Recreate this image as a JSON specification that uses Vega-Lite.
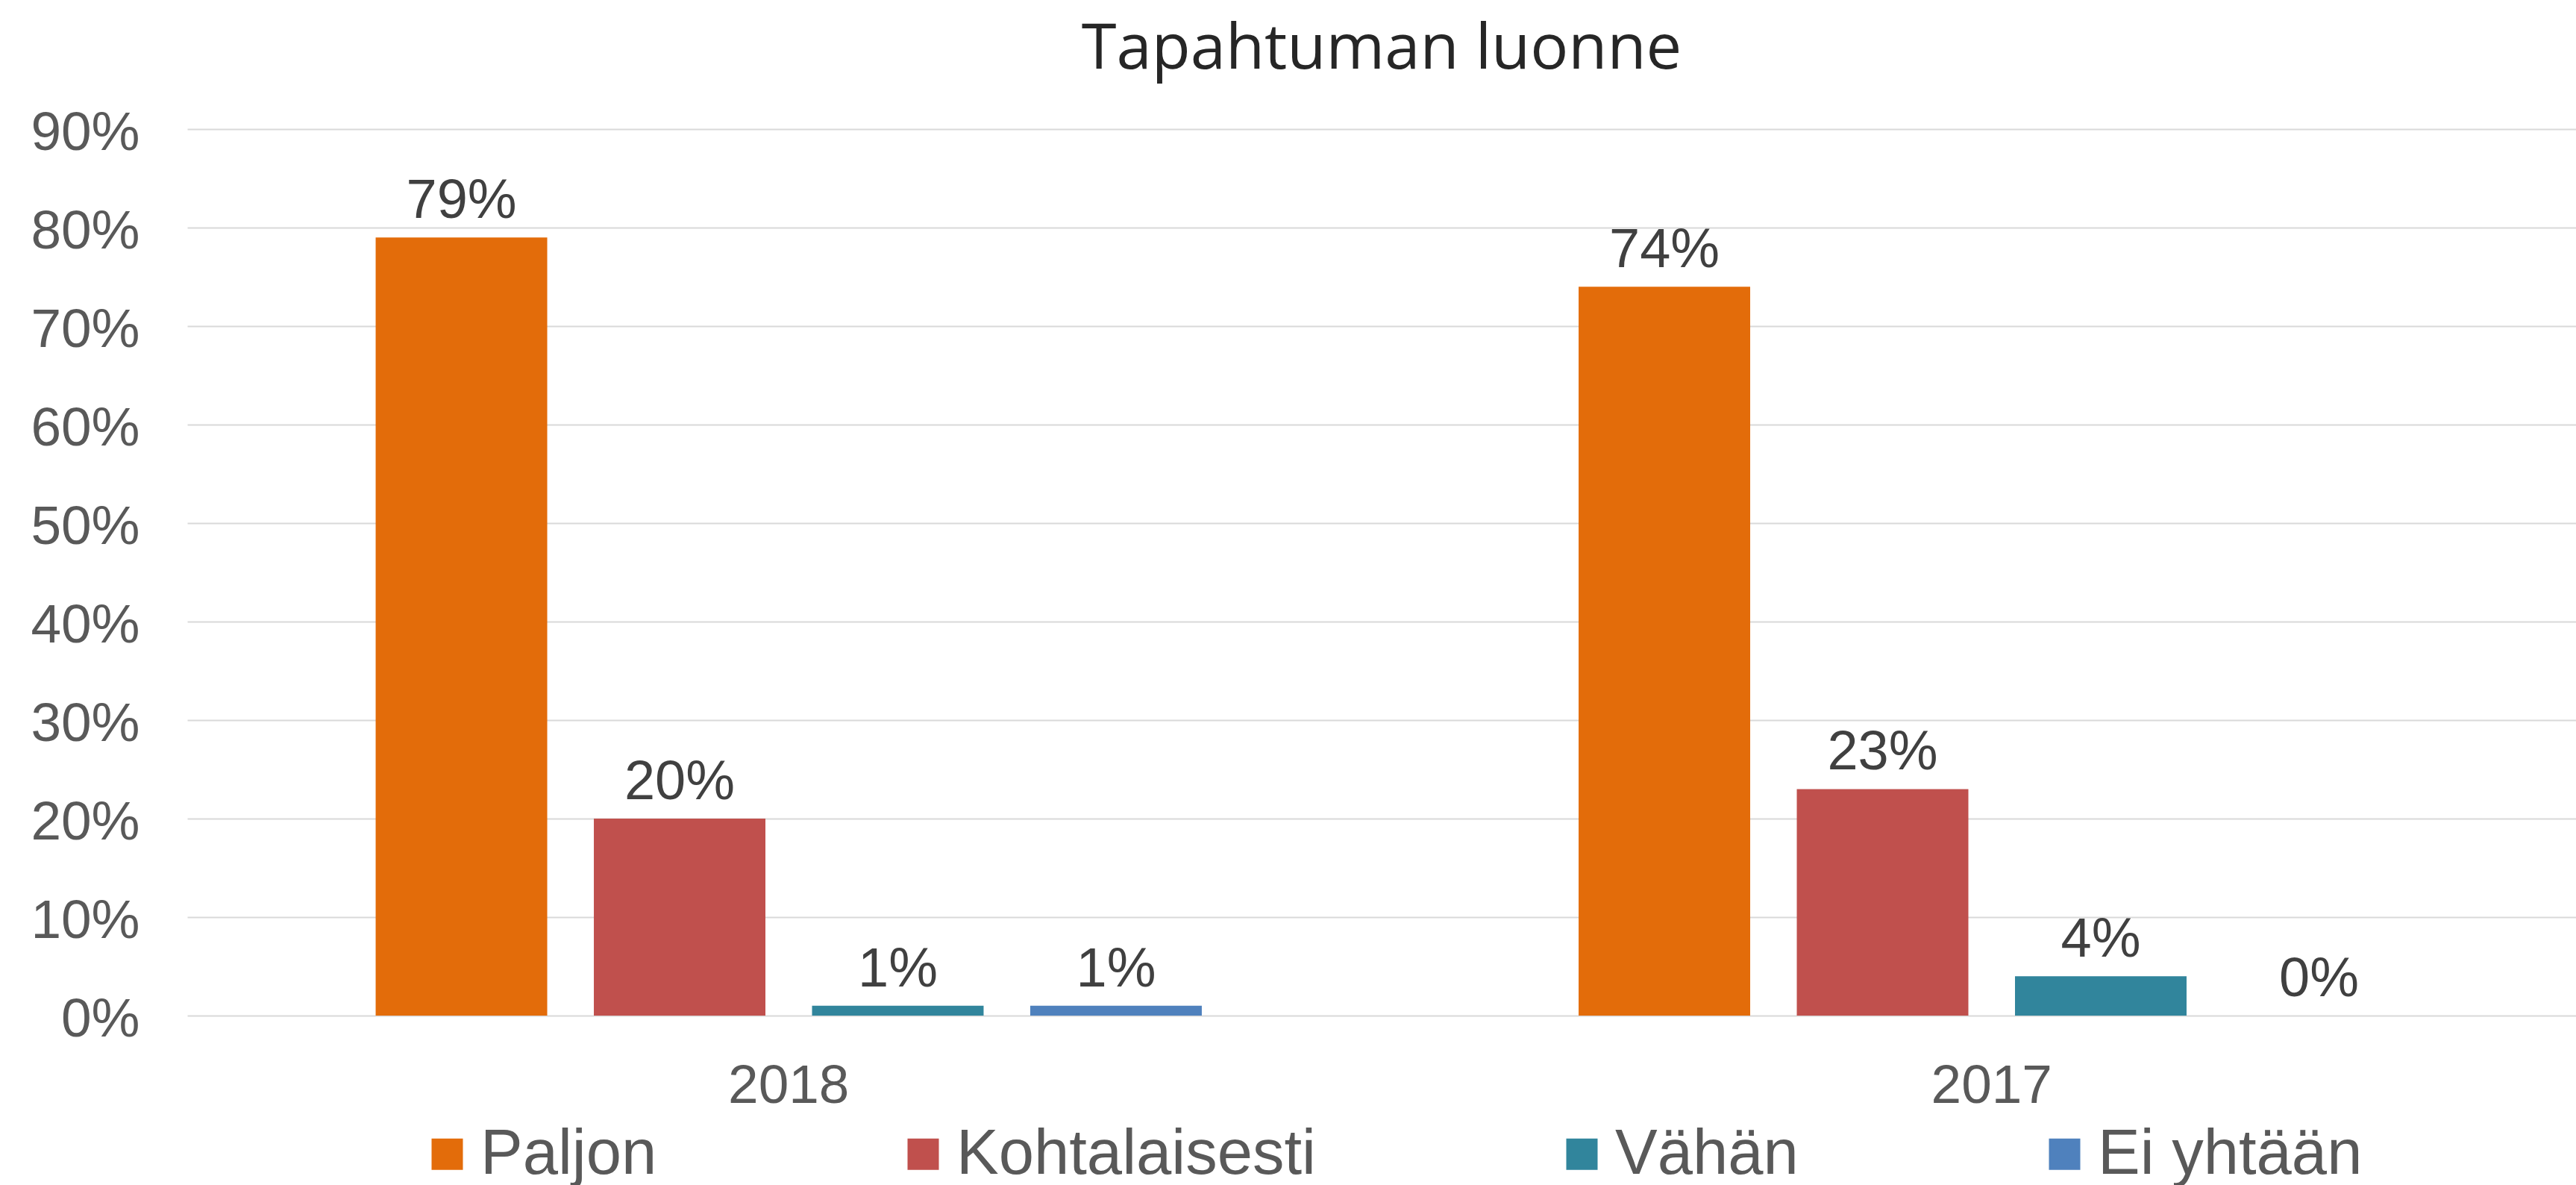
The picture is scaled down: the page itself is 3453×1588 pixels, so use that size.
{
  "$schema": "https://vega.github.io/schema/vega-lite/v6.json",
  "autosize": {"type": "none"},
  "padding": {"left": 251, "top": 173, "right": 0, "bottom": 227},
  "width": 3202,
  "height": 1188,
  "background": "white",
  "title": {"text": "Tapahtuman luonne", "font": "Open Sans", "fontSize": 85, "fontWeight": "normal", "color": "#262626", "anchor": "middle", "baseline": "bottom", "offset": -53},
  "data": {"values": [
    {"vuosi": "2018", "luonne": "Paljon", "osuus": 0.79},
    {"vuosi": "2018", "luonne": "Kohtalaisesti", "osuus": 0.20},
    {"vuosi": "2018", "luonne": "Vähän", "osuus": 0.01},
    {"vuosi": "2018", "luonne": "Ei yhtään", "osuus": 0.01},
    {"vuosi": "2017", "luonne": "Paljon", "osuus": 0.74},
    {"vuosi": "2017", "luonne": "Kohtalaisesti", "osuus": 0.23},
    {"vuosi": "2017", "luonne": "Vähän", "osuus": 0.04},
    {"vuosi": "2017", "luonne": "Ei yhtään", "osuus": 0.0}
  ]},
  "encoding": {
    "x": {"field": "vuosi", "type": "nominal", "sort": ["2018", "2017"],
      "scale": {"range": [0, 3225], "paddingInner": 0, "paddingOuter": 0},
      "axis": {"title": null, "domain": false, "ticks": false, "tickSize": 0, "grid": false, "labelAngle": 0, "labelPadding": 58, "labelFont": "Liberation Sans", "labelFontSize": 73, "labelColor": "#595959"}},
    "xOffset": {"field": "luonne", "type": "nominal", "sort": ["Paljon", "Kohtalaisesti", "Vähän", "Ei yhtään"],
      "scale": {"paddingInner": 0.2137, "paddingOuter": 0.8635}},
    "y": {"field": "osuus", "type": "quantitative",
      "scale": {"domain": [0, 0.9], "nice": false},
      "axis": {"title": null, "domain": false, "ticks": false, "tickSize": 0, "values": [0, 0.1, 0.2, 0.3, 0.4, 0.5, 0.6, 0.7, 0.8, 0.9], "format": ".0%", "labelFont": "Liberation Sans", "labelFontSize": 73, "labelColor": "#595959", "labelPadding": 64, "labelBaseline": "alphabetic", "labelOffset": 27, "gridColor": "#d9d9d9", "gridWidth": 2}}
  },
  "layer": [
    {"mark": {"type": "bar"},
     "encoding": {"color": {"field": "luonne", "type": "nominal", "sort": ["Paljon", "Kohtalaisesti", "Vähän", "Ei yhtään"],
       "scale": {"domain": ["Paljon", "Kohtalaisesti", "Vähän", "Ei yhtään"], "range": ["#E36C0A", "#C0504D", "#31859C", "#4F81BD"]},
       "legend": {"title": null, "orient": "none", "legendX": 306, "legendY": 1331, "direction": "horizontal", "columns": 4, "symbolType": "square", "symbolSize": 1764, "symbolStrokeWidth": 0, "labelFont": "Liberation Sans", "labelFontSize": 85, "labelColor": "#595959", "labelOffset": 2, "columnPadding": 314, "labelLimit": 0}}}},
    {"mark": {"type": "text", "dy": -26, "baseline": "alphabetic", "font": "Liberation Sans", "fontSize": 74, "color": "#404040"},
     "encoding": {"text": {"field": "osuus", "type": "quantitative", "format": ".0%"}}}
  ],
  "config": {"view": {"stroke": null}}
}
